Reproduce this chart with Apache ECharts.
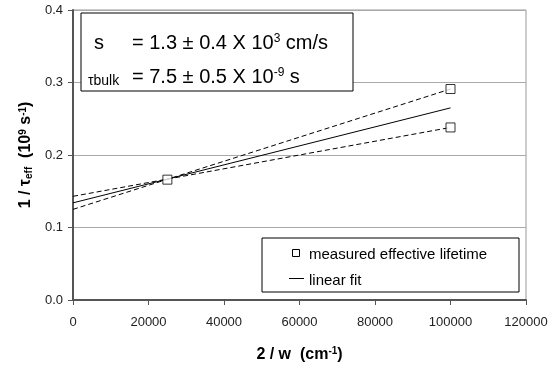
<!DOCTYPE html>
<html>
<head>
<meta charset="utf-8">
<script src="https://cdn.jsdelivr.net/npm/echarts@6/dist/echarts.min.js"></script>
<style>
  html, body { margin: 0; padding: 0; background: #fff; }
  #chart { width: 555px; height: 368px; }
</style>
</head>
<body>
<div id="chart"></div>
<script>
// measured points (x = 2/w in cm^-1, y = 1/tau_eff in 10^9 s^-1)
const measuredX = [25000, 100000, 100000];
const measuredY = [0.166, 0.291, 0.238];

// fit lines, endpoints at x = 0 and x = 100000
const fitX = [0, 100000];
const fitY = [0.134, 0.265];
const upperY = [0.125, 0.291];
const lowerY = [0.143, 0.238];

const xTicks = [0, 20000, 40000, 60000, 80000, 100000, 120000];
const yTicks = [0.0, 0.1, 0.2, 0.3, 0.4];

const legendNames = ['measured effective lifetime', 'linear fit'];

const font = 'Arial, "Liberation Sans", sans-serif';
const pair = (xs, ys) => xs.map((x, i) => [x, ys[i]]);

const chart = echarts.init(document.getElementById('chart'));

const supStyle = { fontSize: 12, verticalAlign: 'top', fontFamily: font, padding: [0, 0, 9, 0] };

const option = {
    backgroundColor: '#fff',
    animation: false,
    textStyle: { fontFamily: font },
    grid: {
        left: 73, right: 29, top: 10, bottom: 68,
        show: true, borderColor: '#999', borderWidth: 1
    },
    xAxis: {
        type: 'value',
        min: xTicks[0],
        max: xTicks[xTicks.length - 1],
        interval: 20000,
        name: '2 / w  (cm{sup|-1})',
        nameLocation: 'middle',
        nameGap: 46,
        nameTextStyle: {
            fontSize: 16, fontWeight: 'bold', color: '#000', fontFamily: font,
            rich: {
                sup: { fontSize: 10, fontWeight: 'bold', verticalAlign: 'top', padding: [0, 0, 8, 0], color: '#000' }
            }
        },
        axisLine: { lineStyle: { color: '#555', width: 2 } },
        axisTick: { show: true, length: 5, lineStyle: { color: '#555' } },
        axisLabel: { margin: 16, fontSize: 13, color: '#222', fontFamily: font, formatter: v => String(v) },
        splitLine: { show: false }
    },
    yAxis: {
        type: 'value',
        min: yTicks[0],
        max: yTicks[yTicks.length - 1],
        interval: 0.1,
        name: '1 / τ{sub|eff}  (10{sup|9} s{sup|-1})',
        nameLocation: 'middle',
        nameRotate: 90,
        nameGap: 34,
        nameTextStyle: {
            fontSize: 16, fontWeight: 'bold', color: '#000', fontFamily: font,
            rich: {
                sub: { fontSize: 10, fontWeight: 'bold', verticalAlign: 'bottom', color: '#000' },
                sup: { fontSize: 10, fontWeight: 'bold', verticalAlign: 'top', color: '#000' }
            }
        },
        axisLine: { show: true, lineStyle: { color: '#555', width: 2 } },
        axisTick: { show: true, length: 5, lineStyle: { color: '#555' } },
        axisLabel: { margin: 10, fontSize: 13, color: '#222', fontFamily: font, formatter: v => v.toFixed(1) },
        splitLine: { show: true, lineStyle: { color: '#aaa', width: 1 } }
    },
    graphic: [
        // parameter box
        {
            type: 'rect',
            shape: { x: 81, y: 13, width: 272, height: 78 },
            style: { fill: '#fff', stroke: '#000', lineWidth: 1 },
            z: 10
        },
        {
            type: 'text', x: 94, y: 43, z: 11,
            style: { text: 's', font: '20px ' + font, fill: '#000', verticalAlign: 'middle' }
        },
        {
            type: 'text', x: 132, y: 43, z: 11,
            style: {
                text: '= 1.3 ± 0.4 X 10{sup|3} cm/s',
                font: '20px ' + font, fill: '#000', verticalAlign: 'middle',
                rich: { sup: supStyle }
            }
        },
        {
            type: 'text', x: 88, y: 81, z: 11,
            style: { text: 'τbulk', font: '14px ' + font, fill: '#000', verticalAlign: 'middle' }
        },
        {
            type: 'text', x: 132, y: 77, z: 11,
            style: {
                text: '= 7.5 ± 0.5 X 10{sup|-9} s',
                font: '20px ' + font, fill: '#000', verticalAlign: 'middle',
                rich: { sup: supStyle }
            }
        },
        // legend box
        {
            type: 'rect',
            shape: { x: 262, y: 238, width: 257, height: 54 },
            style: { fill: '#fff', stroke: '#000', lineWidth: 1 },
            z: 10
        },
        {
            type: 'rect',
            shape: { x: 292.5, y: 249.5, width: 7, height: 7 },
            style: { fill: '#fff', stroke: '#000', lineWidth: 1 },
            z: 11
        },
        {
            type: 'text', x: 309, y: 255, z: 11,
            style: { text: legendNames[0], font: '15px ' + font, fill: '#000', verticalAlign: 'middle' }
        },
        {
            type: 'line',
            shape: { x1: 289, y1: 278.5, x2: 304, y2: 278.5 },
            style: { stroke: '#000', lineWidth: 1 },
            z: 11
        },
        {
            type: 'text', x: 309, y: 281, z: 11,
            style: { text: legendNames[1], font: '15px ' + font, fill: '#000', verticalAlign: 'middle' }
        }
    ],
    series: [
        {
            name: 'upper bound',
            type: 'line',
            data: pair(fitX, upperY),
            symbol: 'none',
            lineStyle: { color: '#000', width: 1, type: [5, 3] },
            z: 2
        },
        {
            name: 'lower bound',
            type: 'line',
            data: pair(fitX, lowerY),
            symbol: 'none',
            lineStyle: { color: '#000', width: 1, type: [5, 3] },
            z: 2
        },
        {
            name: legendNames[1],
            type: 'line',
            data: pair(fitX, fitY),
            symbol: 'none',
            lineStyle: { color: '#000', width: 1 },
            z: 3
        },
        {
            name: legendNames[0],
            type: 'scatter',
            data: pair(measuredX, measuredY),
            symbol: 'rect',
            symbolSize: 9,
            itemStyle: { color: '#fff', borderColor: '#000', borderWidth: 1 },
            z: 4
        }
    ]
};

chart.setOption(option);
</script>
</body>
</html>
